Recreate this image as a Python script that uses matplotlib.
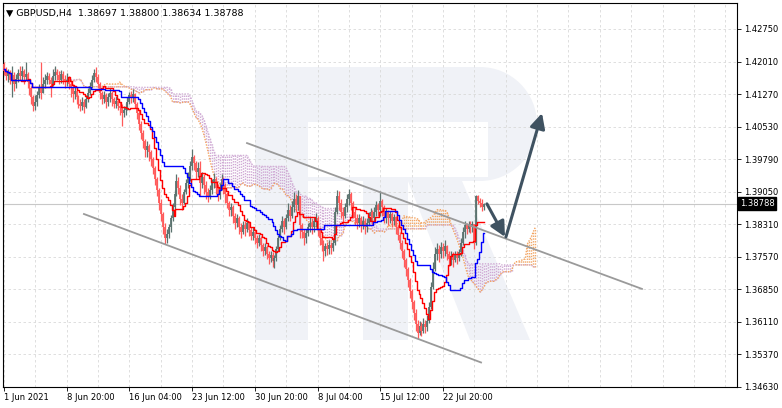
import matplotlib
matplotlib.use('Agg')
import matplotlib.pyplot as plt
import numpy as np
import pandas as pd
from matplotlib.patches import Polygon, Rectangle, Wedge

# header of the MT4 chart window
header = '\u25bc GBPUSD,H4  1.38697 1.38800 1.38634 1.38788'

# H4 candles, 1 Jun 2021 12:00 .. 28 Jul 2021
first_open = 1.4195
close = [
    1.4180, 1.4168, 1.4175, 1.4160, 1.4170, 1.4150, 1.4162, 1.4175, 1.4168, 1.4180,
    1.4165, 1.4172, 1.4155, 1.4140, 1.4120, 1.4100, 1.4110, 1.4125, 1.4140, 1.4130,
    1.4150, 1.4160, 1.4168, 1.4160, 1.4150, 1.4168, 1.4178, 1.4170, 1.4160, 1.4172,
    1.4162, 1.4155, 1.4160, 1.4150, 1.4140, 1.4128, 1.4135, 1.4120, 1.4105, 1.4100,
    1.4110, 1.4098, 1.4115, 1.4130, 1.4145, 1.4160, 1.4175, 1.4165, 1.4150, 1.4130,
    1.4115, 1.4125, 1.4110, 1.4120, 1.4130, 1.4115, 1.4105, 1.4112, 1.4100, 1.4095,
    1.4085, 1.4092, 1.4098, 1.4110, 1.4125, 1.4120, 1.4128, 1.4105, 1.4085, 1.4060,
    1.4040, 1.4020, 1.4000, 1.4010, 1.3995, 1.3980, 1.3960, 1.3935, 1.3910, 1.3880,
    1.3855, 1.3825, 1.3800, 1.3810, 1.3825, 1.3845, 1.3870, 1.3900, 1.3930, 1.3915,
    1.3890, 1.3880, 1.3905, 1.3925, 1.3940, 1.3965, 1.3985, 1.3970, 1.3950, 1.3960,
    1.3925, 1.3940, 1.3920, 1.3905, 1.3895, 1.3910, 1.3925, 1.3935, 1.3915, 1.3900,
    1.3915, 1.3935, 1.3920, 1.3900, 1.3880, 1.3865, 1.3870, 1.3850, 1.3835, 1.3845,
    1.3825, 1.3815, 1.3830, 1.3820, 1.3835, 1.3818, 1.3805, 1.3815, 1.3800, 1.3790,
    1.3800, 1.3785, 1.3772, 1.3780, 1.3765, 1.3755, 1.3762, 1.3748, 1.3755, 1.3775,
    1.3800, 1.3820, 1.3840, 1.3825, 1.3845, 1.3865, 1.3850, 1.3870, 1.3890, 1.3875,
    1.3895, 1.3830, 1.3815, 1.3800, 1.3812, 1.3825, 1.3835, 1.3825, 1.3838, 1.3845,
    1.3820, 1.3800, 1.3785, 1.3770, 1.3782, 1.3775, 1.3785, 1.3778, 1.3790, 1.3860,
    1.3895, 1.3880, 1.3860, 1.3850, 1.3870, 1.3890, 1.3900, 1.3880, 1.3860, 1.3845,
    1.3835, 1.3845, 1.3830, 1.3840, 1.3825, 1.3835, 1.3850, 1.3860, 1.3845, 1.3860,
    1.3875, 1.3865, 1.3885, 1.3870, 1.3850, 1.3860, 1.3845, 1.3855, 1.3840, 1.3848,
    1.3825, 1.3808, 1.3790, 1.3770, 1.3750, 1.3730, 1.3705, 1.3680, 1.3655, 1.3630,
    1.3605, 1.3585, 1.3600, 1.3590, 1.3605, 1.3598, 1.3612, 1.3645, 1.3690, 1.3730,
    1.3765, 1.3775, 1.3765, 1.3780, 1.3770, 1.3782, 1.3765, 1.3752, 1.3760, 1.3750,
    1.3762, 1.3755, 1.3768, 1.3790, 1.3815, 1.3830, 1.3822, 1.3830, 1.3825, 1.3832,
    1.3790, 1.3895, 1.3885, 1.3880, 1.3870, 1.38788]
high = [
    1.4200, 1.4188, 1.4185, 1.4182, 1.4190, 1.4178, 1.4172, 1.4185, 1.4192, 1.4190,
    1.4185, 1.4200, 1.4178, 1.4160, 1.4145, 1.4125, 1.4125, 1.4135, 1.4150, 1.4200,
    1.4165, 1.4172, 1.4178, 1.4175, 1.4165, 1.4185, 1.4192, 1.4185, 1.4180, 1.4182,
    1.4180, 1.4170, 1.4175, 1.4168, 1.4160, 1.4150, 1.4145, 1.4140, 1.4125, 1.4115,
    1.4120, 1.4115, 1.4125, 1.4140, 1.4155, 1.4170, 1.4185, 1.4188, 1.4172, 1.4155,
    1.4135, 1.4135, 1.4130, 1.4130, 1.4140, 1.4135, 1.4120, 1.4122, 1.4118, 1.4110,
    1.4105, 1.4100, 1.4108, 1.4120, 1.4132, 1.4135, 1.4138, 1.4130, 1.4110, 1.4090,
    1.4065, 1.4045, 1.4025, 1.4020, 1.4015, 1.4000, 1.3985, 1.3965, 1.3940, 1.3915,
    1.3890, 1.3860, 1.3835, 1.3820, 1.3832, 1.3852, 1.3880, 1.3910, 1.3945, 1.3940,
    1.3920, 1.3900, 1.3912, 1.3935, 1.3950, 1.3975, 1.4003, 1.3990, 1.3975, 1.3972,
    1.3975, 1.3950, 1.3945, 1.3930, 1.3915, 1.3920, 1.3935, 1.3948, 1.3940, 1.3922,
    1.3925, 1.3945, 1.3940, 1.3925, 1.3905, 1.3885, 1.3880, 1.3875, 1.3858, 1.3855,
    1.3850, 1.3835, 1.3840, 1.3838, 1.3845, 1.3840, 1.3825, 1.3825, 1.3820, 1.3808,
    1.3810, 1.3805, 1.3790, 1.3790, 1.3785, 1.3772, 1.3770, 1.3768, 1.3762, 1.3782,
    1.3808, 1.3830, 1.3850, 1.3845, 1.3855, 1.3880, 1.3875, 1.3885, 1.3905, 1.3900,
    1.3910, 1.3895, 1.3835, 1.3822, 1.3820, 1.3835, 1.3848, 1.3845, 1.3848, 1.3858,
    1.3850, 1.3825, 1.3808, 1.3795, 1.3790, 1.3792, 1.3795, 1.3792, 1.3800, 1.3870,
    1.3910, 1.3908, 1.3890, 1.3870, 1.3880, 1.3900, 1.3912, 1.3905, 1.3885, 1.3870,
    1.3855, 1.3855, 1.3850, 1.3850, 1.3845, 1.3845, 1.3860, 1.3868, 1.3865, 1.3870,
    1.3885, 1.3880, 1.3907, 1.3890, 1.3875, 1.3868, 1.3865, 1.3862, 1.3860, 1.3855,
    1.3850, 1.3830, 1.3815, 1.3795, 1.3775, 1.3755, 1.3735, 1.3710, 1.3685, 1.3660,
    1.3640, 1.3615, 1.3612, 1.3610, 1.3618, 1.3615, 1.3625, 1.3655, 1.3700, 1.3745,
    1.3780, 1.3790, 1.3785, 1.3792, 1.3790, 1.3795, 1.3785, 1.3772, 1.3770, 1.3768,
    1.3772, 1.3770, 1.3775, 1.3800, 1.3825, 1.3840, 1.3835, 1.3840, 1.3838, 1.3840,
    1.3832, 1.3898, 1.3898, 1.3892, 1.3888, 1.3880]
low = [
    1.4170, 1.4160, 1.4155, 1.4150, 1.4120, 1.4135, 1.4140, 1.4155, 1.4160, 1.4160,
    1.4150, 1.4160, 1.4140, 1.4125, 1.4105, 1.4088, 1.4090, 1.4100, 1.4118, 1.4115,
    1.4130, 1.4140, 1.4150, 1.4150, 1.4120, 1.4145, 1.4160, 1.4160, 1.4150, 1.4152,
    1.4150, 1.4140, 1.4145, 1.4138, 1.4120, 1.4110, 1.4115, 1.4105, 1.4095, 1.4088,
    1.4090, 1.4085, 1.4095, 1.4110, 1.4125, 1.4140, 1.4155, 1.4155, 1.4140, 1.4115,
    1.4105, 1.4108, 1.4095, 1.4100, 1.4110, 1.4100, 1.4095, 1.4095, 1.4090, 1.4080,
    1.4055, 1.4075, 1.4080, 1.4090, 1.4105, 1.4108, 1.4110, 1.4095, 1.4070, 1.4045,
    1.4025, 1.4005, 1.3985, 1.3985, 1.3975, 1.3965, 1.3945, 1.3920, 1.3895, 1.3865,
    1.3840, 1.3810, 1.3788, 1.3790, 1.3800, 1.3815, 1.3840, 1.3865, 1.3895, 1.3900,
    1.3875, 1.3865, 1.3878, 1.3900, 1.3915, 1.3930, 1.3955, 1.3955, 1.3935, 1.3940,
    1.3895, 1.3915, 1.3900, 1.3890, 1.3882, 1.3888, 1.3900, 1.3915, 1.3900, 1.3885,
    1.3890, 1.3910, 1.3900, 1.3880, 1.3868, 1.3850, 1.3850, 1.3835, 1.3820, 1.3825,
    1.3810, 1.3800, 1.3810, 1.3805, 1.3815, 1.3805, 1.3795, 1.3795, 1.3788, 1.3778,
    1.3782, 1.3772, 1.3760, 1.3762, 1.3752, 1.3742, 1.3745, 1.3735, 1.3732, 1.3748,
    1.3770, 1.3795, 1.3815, 1.3810, 1.3820, 1.3840, 1.3838, 1.3845, 1.3860, 1.3860,
    1.3865, 1.3800, 1.3800, 1.3785, 1.3790, 1.3805, 1.3815, 1.3810, 1.3815, 1.3825,
    1.3805, 1.3785, 1.3770, 1.3748, 1.3760, 1.3762, 1.3765, 1.3765, 1.3770, 1.3785,
    1.3855, 1.3865, 1.3845, 1.3830, 1.3845, 1.3860, 1.3875, 1.3865, 1.3845, 1.3830,
    1.3820, 1.3825, 1.3815, 1.3820, 1.3810, 1.3815, 1.3830, 1.3840, 1.3830, 1.3840,
    1.3850, 1.3850, 1.3850, 1.3850, 1.3835, 1.3835, 1.3830, 1.3835, 1.3825, 1.3830,
    1.3810, 1.3795, 1.3775, 1.3755, 1.3735, 1.3715, 1.3690, 1.3665, 1.3640, 1.3615,
    1.3590, 1.3572, 1.3580, 1.3578, 1.3585, 1.3585, 1.3590, 1.3608, 1.3640, 1.3685,
    1.3725, 1.3750, 1.3745, 1.3755, 1.3755, 1.3760, 1.3750, 1.3738, 1.3740, 1.3735,
    1.3745, 1.3742, 1.3748, 1.3760, 1.3785, 1.3800, 1.3810, 1.3815, 1.3812, 1.3815,
    1.3775, 1.3785, 1.3878, 1.3870, 1.3862, 1.38634]

last_price = 1.38788
price_labels = ['1.34630', '1.35370', '1.36110', '1.36850', '1.37570', '1.38310',
                '1.39050', '1.39790', '1.40530', '1.41270', '1.42010', '1.42750']
date_labels = ['1 Jun 2021', '8 Jun 20:00', '16 Jun 04:00', '23 Jun 12:00',
               '30 Jun 20:00', '8 Jul 04:00', '15 Jul 12:00', '22 Jul 20:00']
bars_per_label = 32

# hand drawn objects (bar index, price)
upper_channel = ([124.0, 325.5], [1.4016, 1.3685])
lower_channel = ([40.8, 243.4], [1.3855, 1.3518])
arrow_down = ((246.4, 1.3878), (255.6, 1.3803))
arrow_up = ((256.1, 1.3803), (274.5, 1.4084))

# ichimoku settings
tenkan_n, kijun_n, senkou_n = 9, 26, 52

n = min(len(close), len(high), len(low))
c = np.array(close[:n])
o = np.concatenate([[first_open], c[:-1]])
h = np.maximum(np.array(high[:n]), np.maximum(o, c))
l = np.minimum(np.array(low[:n]), np.minimum(o, c))
idx = np.arange(n)

hs, ls = pd.Series(h), pd.Series(l)
tenkan = (hs.rolling(tenkan_n, min_periods=1).max() + ls.rolling(tenkan_n, min_periods=1).min()) / 2
kijun = (hs.rolling(kijun_n, min_periods=1).max() + ls.rolling(kijun_n, min_periods=1).min()) / 2
span_a = ((tenkan + kijun) / 2).values
span_b = ((hs.rolling(senkou_n, min_periods=1).max() + ls.rolling(senkou_n, min_periods=1).min()) / 2).values
span_x = idx + kijun_n

W, H = 782, 408
fig = plt.figure(figsize=(W / 100, H / 100), dpi=100, facecolor='white')

# background layer with the watermark logo (pixel coordinates)
bg = fig.add_axes([0, 0, 1, 1], zorder=0)
bg.set_xlim(0, W)
bg.set_ylim(H, 0)
bg.axis('off')
wm = '#f0f2f7'
bg.add_patch(Rectangle((255, 67), 53, 273, color=wm, lw=0))
bg.add_patch(Rectangle((308, 67), 172, 114, color=wm, lw=0))
bg.add_patch(Wedge((480, 124), 57, -90, 90, color=wm, lw=0))
bg.add_patch(Rectangle((308, 122), 180, 55, color='white', lw=0))
bg.add_patch(Rectangle((363, 177), 45, 163, color=wm, lw=0))
bg.add_patch(Polygon([(408, 181), (462, 181), (530, 340), (470, 340)], closed=True, color=wm, lw=0))

x0, x1 = 3, 737
y0, y1 = 3, 387
ax = fig.add_axes([x0 / W, 1 - y1 / H, (x1 - x0) / W, (y1 - y0) / H], zorder=1)
ax.set_facecolor('none')

px_per_bar = 1.96
ax.set_xlim(-0.5, -0.5 + (x1 - x0) / px_per_bar)
ax.set_ylim(1.34623, 1.43340)

# grid
grid_kw = dict(color='#d9d9d9', lw=0.6, ls=(0, (3, 3)), zorder=1)
for gx in range(0, 380, bars_per_label // 2):
    ax.axvline(gx, **grid_kw)
yticks = np.linspace(1.34630, 1.42750, len(price_labels))
for gy in yticks:
    ax.axhline(gy, **grid_kw)

# current price line
ax.axhline(last_price, color='#c8c8c8', lw=0.8, zorder=1.5)

# ichimoku cloud
bull = span_a >= span_b
lo_c = np.minimum(span_a, span_b)
hi_c = np.maximum(span_a, span_b)
ax.vlines(span_x[~bull], lo_c[~bull], hi_c[~bull], colors='#cfa8d4', lw=1.0,
          linestyles=(0, (1, 1)), zorder=2)
ax.vlines(span_x[bull], lo_c[bull], hi_c[bull], colors='#f2a868', lw=1.0,
          linestyles=(0, (1, 1)), zorder=2)
ax.plot(span_x, span_a, color='#f4a460', lw=1.0, ls=(0, (1, 1)), zorder=2.5)
ax.plot(span_x, span_b, color='#d2b0d6', lw=1.0, ls=(0, (1, 1)), zorder=2.5)

# candles
up = c >= o
cols = np.where(up, '#5b736f', '#ff5a5a')
ax.vlines(idx, l, h, colors=cols, lw=0.9, zorder=3)
body_lo = np.minimum(o, c)
body_hi = np.maximum(np.maximum(o, c), body_lo + 0.00012)
ax.vlines(idx, body_lo, body_hi, colors=cols, lw=1.3, zorder=3)

# tenkan / kijun
ax.plot(idx, tenkan, color='#ff0000', lw=1.0, drawstyle='steps-mid', zorder=4)
ax.plot(idx, kijun, color='#0000ff', lw=1.0, drawstyle='steps-mid', zorder=4)

# channel
ax.plot(*upper_channel, color='#9a9a9a', lw=1.3, zorder=5)
ax.plot(*lower_channel, color='#9a9a9a', lw=1.3, zorder=5)

# forecast arrows
for start, tip in (arrow_down, arrow_up):
    ax.annotate('', xy=tip, xytext=start, zorder=6,
                arrowprops=dict(arrowstyle='-|>,head_length=0.9,head_width=0.45',
                                color='#3f5261', lw=2.2, shrinkA=0, shrinkB=0,
                                mutation_scale=10))

# axes styling
for sp in ax.spines.values():
    sp.set_color('black')
    sp.set_linewidth(0.8)
ax.yaxis.tick_right()
ax.set_yticks(yticks)
ax.set_yticklabels(price_labels)
ax.set_xticks([k * bars_per_label for k in range(len(date_labels))])
ax.set_xticklabels(date_labels, ha='left')
ax.tick_params(axis='y', length=3, width=0.6, pad=2, labelsize=6, colors='black')
ax.tick_params(axis='x', length=3, width=0.6, pad=1.5, labelsize=6, colors='black')

# price tag on the right axis
ax.text(1.004, last_price, '1.38788', transform=ax.get_yaxis_transform(),
        ha='left', va='center', fontsize=6, color='white', zorder=10,
        bbox=dict(boxstyle='square,pad=0.2', fc='black', ec='black'), clip_on=False)

ax.text(0.004, 0.985, header, transform=ax.transAxes, ha='left', va='top',
        fontsize=6.8, color='black')

plt.savefig('out.png', dpi=100)
